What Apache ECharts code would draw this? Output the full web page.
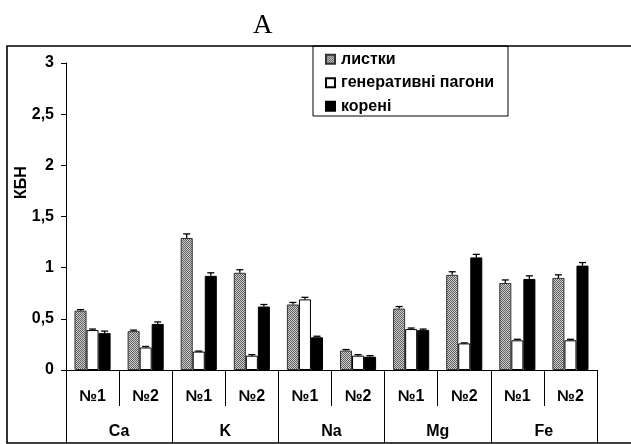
<!DOCTYPE html>
<html>
<head>
<meta charset="utf-8">
<script src="https://cdn.jsdelivr.net/npm/echarts@6/dist/echarts.min.js"></script>
<style>html,body{margin:0;padding:0;background:#fff;}#c{width:631px;height:444px;}</style>
</head>
<body>
<div id="c"></div>
<script>
const subCategories = ['№1','№2','№1','№2','№1','№2','№1','№2','№1','№2'];
const groups = ['Ca','K','Na','Mg','Fe'];
const seriesNames = ['листки','генеративні пагони','корені'];
const leaves = [0.58, 0.38, 1.29, 0.95, 0.64, 0.19, 0.60, 0.93, 0.85, 0.90];
const shoots = [0.39, 0.22, 0.18, 0.14, 0.69, 0.14, 0.40, 0.26, 0.29, 0.29];
const roots  = [0.36, 0.45, 0.92, 0.62, 0.32, 0.13, 0.39, 1.10, 0.89, 1.02];
const leavesErr = [0.01, 0.01, 0.04, 0.03, 0.02, 0.01, 0.02, 0.03, 0.03, 0.03];
const shootsErr = [0.01, 0.01, 0.005, 0.01, 0.02, 0.01, 0.01, 0.005, 0.01, 0.01];
const rootsErr  = [0.02, 0.02, 0.03, 0.02, 0.01, 0.01, 0.01, 0.03, 0.03, 0.03];
const yTicks = [0, 0.5, 1, 1.5, 2, 2.5, 3];

const pc = document.createElement('canvas');
pc.width = 2; pc.height = 2;
const pctx = pc.getContext('2d');
pctx.fillStyle = '#cfcfcf'; pctx.fillRect(0,0,2,2);
pctx.fillStyle = '#5e5e5e'; pctx.fillRect(0,0,1,1); pctx.fillRect(1,1,1,1);
const hatch = {image: pc, repeat: 'repeat'};

const GAP = 0.32;
const FONT = 'Liberation Sans, Arial, sans-serif';
const FS = 16;

function errSeries(idx, vals, errs){
  return {
    type: 'custom',
    xAxisIndex: 0,
    z: 5,
    data: vals.map((v,i)=>[i, v, errs[i]]),
    renderItem: function(params, api){
      const x = api.value(0), v = api.value(1), e = api.value(2);
      const b = api.coord([x, v]);
      const t = api.coord([x, v + e]);
      const catW = api.size([1,0])[0];
      const barW = catW * (1 - GAP) / 3;
      const cx = b[0] + (idx - 1) * barW;
      const st = {stroke: '#000', lineWidth: 1.3};
      return {type: 'group', children: [
        {type: 'line', shape: {x1: cx, y1: b[1], x2: cx, y2: t[1]}, style: st},
        {type: 'line', shape: {x1: cx - 3.5, y1: t[1], x2: cx + 3.5, y2: t[1]}, style: st}
      ]};
    }
  };
}

const chart = echarts.init(document.getElementById('c'), null, {renderer: 'canvas'});
chart.setOption({
  animation: false,
  backgroundColor: '#fff',
  grid: {left: 66, right: 34, top: 63, bottom: 74, containLabel: false, outerBoundsMode: 'none'},
  legend: {
    orient: 'vertical', left: 325, top: 51, padding: 0,
    itemWidth: 9, itemHeight: 9, itemGap: 7, icon: 'rect',
    data: seriesNames,
    textStyle: {fontFamily: FONT, fontWeight: 'bold', fontSize: FS, color: '#000', lineHeight: 16.5, padding: [0,0,0,1]}
  },
  xAxis: [
    {type: 'category', data: subCategories, position: 'bottom', offset: 0,
     axisLine: {show: true, lineStyle: {color: '#000', width: 1}},
     axisTick: {show: true, interval: 0, length: 36, lineStyle: {color: '#000'}},
     axisLabel: {interval: 0, margin: 19, color: '#000', fontFamily: FONT, fontWeight: 'bold', fontSize: FS}},
    {type: 'category', data: groups, position: 'bottom', offset: 0,
     axisLine: {show: false},
     axisTick: {show: true, interval: 0, length: 73, lineStyle: {color: '#000'}},
     axisLabel: {interval: 0, margin: 54, color: '#000', fontFamily: FONT, fontWeight: 'bold', fontSize: FS}}
  ],
  yAxis: {
    type: 'value', min: 0, max: 3, interval: 0.5,
    name: 'КБН', nameLocation: 'middle', nameGap: 36, nameRotate: 90, nameMoveOverlap: false,
    nameTextStyle: {fontFamily: FONT, fontWeight: 'bold', fontSize: FS, color: '#000', padding: [0, 0, 0, 68]},
    axisLine: {show: true, lineStyle: {color: '#000', width: 1}},
    axisTick: {show: true, length: 5, lineStyle: {color: '#000'}},
    splitLine: {show: false},
    axisLabel: {margin: 12, color: '#000', fontFamily: FONT, fontWeight: 'bold', fontSize: FS,
      formatter: v => yTicks.includes(v) ? String(v).replace('.', ',') : ''}
  },
  series: [
    {name: seriesNames[0], type: 'bar', data: leaves, barGap: '0%', barCategoryGap: (GAP*100)+'%',
     itemStyle: {color: hatch, borderColor: '#333', borderWidth: 1}},
    {name: seriesNames[1], type: 'bar', data: shoots,
     itemStyle: {color: '#fff', borderColor: '#000', borderWidth: 1}},
    {name: seriesNames[2], type: 'bar', data: roots,
     itemStyle: {color: '#000', borderColor: '#000', borderWidth: 1}},
    errSeries(0, leaves, leavesErr),
    errSeries(1, shoots, shootsErr),
    errSeries(2, roots, rootsErr)
  ],
  graphic: [
    {type: 'text', left: 253, top: 12, style: {text: 'A', font: '27px "Liberation Serif", "Times New Roman", serif', fill: '#000'}},
    {type: 'rect', shape: {x: 7, y: 46, width: 640, height: 397}, style: {fill: 'none', stroke: '#000', lineWidth: 1.6}, silent: true},
    {type: 'rect', shape: {x: 313, y: 46, width: 195, height: 70}, style: {fill: 'none', stroke: '#000', lineWidth: 1}, silent: true}
  ]
});
</script>
</body>
</html>
